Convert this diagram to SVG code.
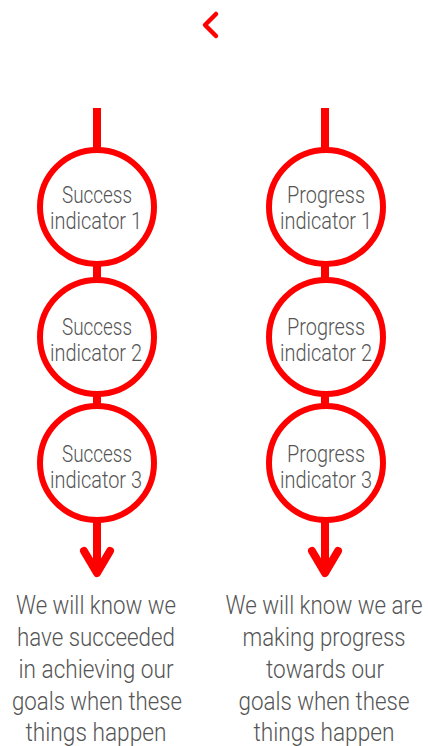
<svg xmlns="http://www.w3.org/2000/svg" width="428" height="746" viewBox="0 0 428 746">
<style>
.ln{stroke:#ff0000;stroke-width:8;fill:none}
.hd{stroke:#ff0000;stroke-width:8;fill:none;stroke-linecap:round;stroke-linejoin:round}
.c{fill:#fff;stroke:#ff0000;stroke-width:6}
.t{font-family:Roboto,"Liberation Sans",sans-serif;font-weight:300;font-size:23px;fill:#555;text-anchor:middle}
.b{font-family:Roboto,"Liberation Sans",sans-serif;font-weight:300;font-size:25px;fill:#555;text-anchor:middle}
</style>
<path d="M216 14 L205 25 L216 36" stroke="#ff0000" stroke-width="4.5" fill="none" stroke-linecap="round" stroke-linejoin="round"/>
<g id="connectors">
<line class="ln" x1="97" y1="108" x2="97" y2="570"/>
<path class="hd" d="M84 551 L97 573 L110 551"/>
<line class="ln" x1="325" y1="108" x2="325" y2="570"/>
<path class="hd" d="M312 551 L325 573 L338 551"/>
</g>
<g id="s1"><circle class="c" cx="97" cy="207" r="57"/><text class="t" x="97" y="203" textLength="70" lengthAdjust="spacingAndGlyphs">Success</text><text class="t" x="96" y="229" textLength="92" lengthAdjust="spacingAndGlyphs">indicator 1</text></g>
<g id="s2"><circle class="c" cx="97" cy="337" r="57"/><text class="t" x="97" y="335" textLength="70" lengthAdjust="spacingAndGlyphs">Success</text><text class="t" x="96" y="361" textLength="92" lengthAdjust="spacingAndGlyphs">indicator 2</text></g>
<g id="s3"><circle class="c" cx="97" cy="463" r="57"/><text class="t" x="97" y="462" textLength="70" lengthAdjust="spacingAndGlyphs">Success</text><text class="t" x="96" y="488" textLength="92" lengthAdjust="spacingAndGlyphs">indicator 3</text></g>
<g id="p1"><circle class="c" cx="326" cy="207" r="57"/><text class="t" x="326" y="203" textLength="78" lengthAdjust="spacingAndGlyphs">Progress</text><text class="t" x="326" y="229" textLength="92" lengthAdjust="spacingAndGlyphs">indicator 1</text></g>
<g id="p2"><circle class="c" cx="326" cy="337" r="57"/><text class="t" x="326" y="335" textLength="78" lengthAdjust="spacingAndGlyphs">Progress</text><text class="t" x="326" y="361" textLength="92" lengthAdjust="spacingAndGlyphs">indicator 2</text></g>
<g id="p3"><circle class="c" cx="326" cy="463" r="57"/><text class="t" x="326" y="462" textLength="78" lengthAdjust="spacingAndGlyphs">Progress</text><text class="t" x="326" y="488" textLength="92" lengthAdjust="spacingAndGlyphs">indicator 3</text></g>
<g id="left-caption">
<text class="b" x="96" y="614" textLength="160" lengthAdjust="spacingAndGlyphs">We will know we</text>
<text class="b" x="96" y="646" textLength="158" lengthAdjust="spacingAndGlyphs">have succeeded</text>
<text class="b" x="96" y="678" textLength="155" lengthAdjust="spacingAndGlyphs">in achieving our</text>
<text class="b" x="97" y="710" textLength="170" lengthAdjust="spacingAndGlyphs">goals when these</text>
<text class="b" x="96" y="741" textLength="141" lengthAdjust="spacingAndGlyphs">things happen</text>
</g>
<g id="right-caption">
<text class="b" x="324" y="614" textLength="197" lengthAdjust="spacingAndGlyphs">We will know we are</text>
<text class="b" x="324" y="646" textLength="163" lengthAdjust="spacingAndGlyphs">making progress</text>
<text class="b" x="325" y="678" textLength="118" lengthAdjust="spacingAndGlyphs">towards our</text>
<text class="b" x="324" y="710" textLength="171" lengthAdjust="spacingAndGlyphs">goals when these</text>
<text class="b" x="324" y="741" textLength="141" lengthAdjust="spacingAndGlyphs">things happen</text>
</g>
</svg>
